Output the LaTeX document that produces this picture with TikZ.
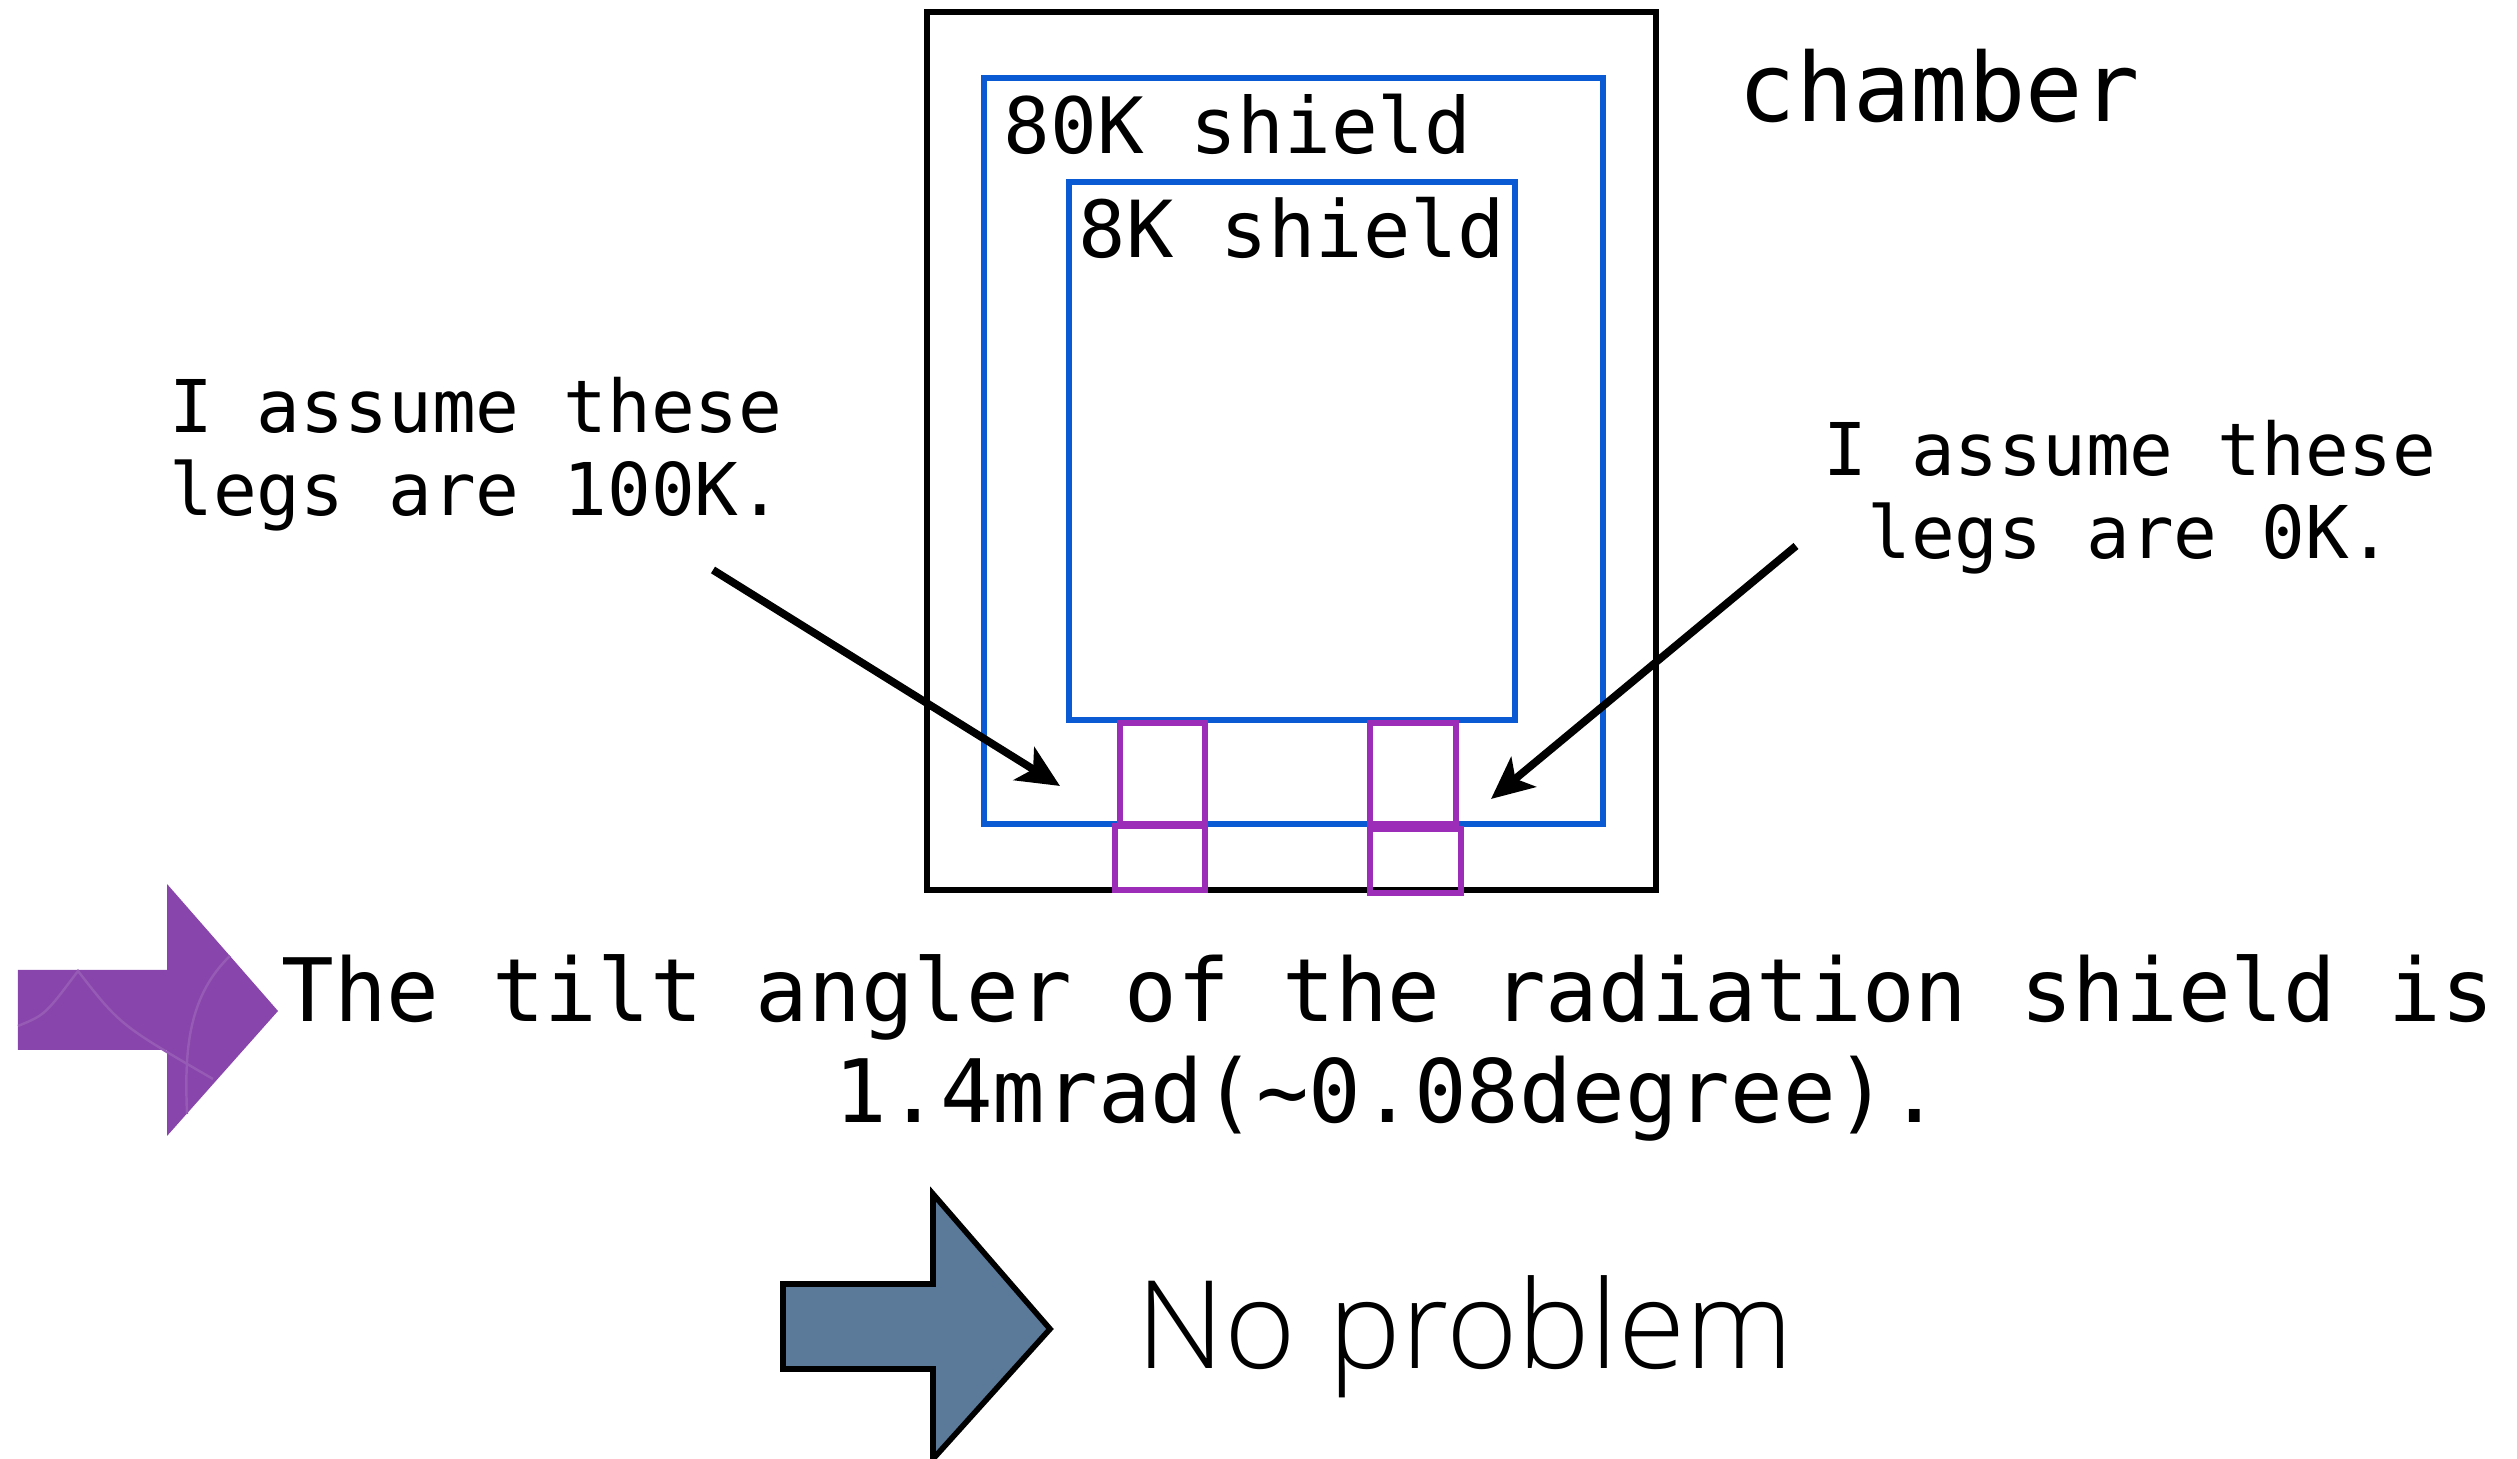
\documentclass[tikz,border=0pt]{standalone}
\usepackage{fontspec}
\setmonofont{DejaVu Sans Mono}
\newfontfamily\lightfont{Open Sans Light}
\usetikzlibrary{arrows.meta}
\definecolor{shieldblue}{HTML}{0A5BD3}
\definecolor{legpurple}{HTML}{9B2DB8}
\definecolor{arrowpurple}{HTML}{8845AB}
\definecolor{arrowslate}{HTML}{5B7A99}
\tikzset{
    shield/.style = {draw = shieldblue, line width = 1.7pt},
    leg/.style = {draw = legpurple, line width = 1.5pt},
    pointer/.style = {-{Stealth[length=12pt,width=11pt,inset=3pt]}, line width = 2.2pt},
    monotext/.style = {inner sep = 0pt, align = center, font = \ttfamily\fontsize{#1}{1.145\dimexpr#1pt\relax}\selectfont}
}
\begin{document}
\begin{tikzpicture}
            \useasboundingbox (0,0) rectangle (25.17,14.59);
            \draw[line width = 1.7pt] (9.27,14.47) rectangle (16.56,5.69);
            \draw[shield] (9.84,13.81) rectangle (16.03,6.35);
            \draw[shield] (10.69,12.77) rectangle (15.15,7.39);
            \draw[leg] (11.20,7.36) rectangle (12.05,6.35);
            \draw[leg] (13.70,7.36) rectangle (14.56,6.35);
            \draw[leg] (11.15,6.33) rectangle (12.05,5.69);
            \draw[leg] (13.70,6.30) rectangle (14.61,5.66);
            \node[monotext=27.1, anchor=base west] (chamber) at (17.38,13.37) {chamber};
            \node[monotext=22.1, anchor=base west] (outer) at (10.03,13.05) {80K shield};
            \node[monotext=22.4, anchor=base west] (inner) at (10.78,12.01) {8K shield};
            \node[monotext=20.7] (hotlegs) at (4.76,10.05) {I assume these\\legs are 100K.};
            \node[monotext=20.7] (coldlegs) at (21.30,9.62) {I assume these\\legs are 0K.};
            \node[monotext=24.9] (result) at (13.88,4.11) {The tilt angler of the radiation shield is\\1.4mrad(\textasciitilde0.08degree).};
            \node[inner sep = 0pt, anchor=base west, font = \lightfont\fontsize{34.8}{40}\selectfont] (verdict) at (11.36,0.90) {No problem};
            \coordinate (hotstart) at (7.13,8.89);
            \coordinate (hotend) at (10.60,6.73);
            \coordinate (coldstart) at (17.96,9.13);
            \coordinate (coldend) at (14.91,6.60);
            \draw[pointer] (hotstart) -- (hotend);
            \draw[pointer] (coldstart) -- (coldend);
            \fill[arrowpurple]
            (0.18,4.89) -- (1.67,4.89) -- (1.67,5.75) -- (2.78,4.48) -- (1.67,3.23) -- (1.67,4.09) -- (0.18,4.09) --cycle;
            \draw[arrowpurple!88!white, line width = 0.7pt] (0.18,4.33) .. controls (0.45,4.44) .. (0.78,4.88) .. controls (1.2,4.34) .. (2.13,3.80);
            \draw[arrowpurple!88!white, line width = 0.7pt] (2.30,5.03) .. controls (1.85,4.6) and (1.85,4.0) .. (1.87,3.45);
            \filldraw[
                fill = arrowslate,
                draw = black,
                line width = 1.6pt
            ]
            (7.83,1.75) -- (9.33,1.75) -- (9.33,2.65) -- (10.50,1.30) -- (9.33,0.00) -- (9.33,0.90) -- (7.83,0.90) --cycle;
        \end{tikzpicture}
\end{document}
